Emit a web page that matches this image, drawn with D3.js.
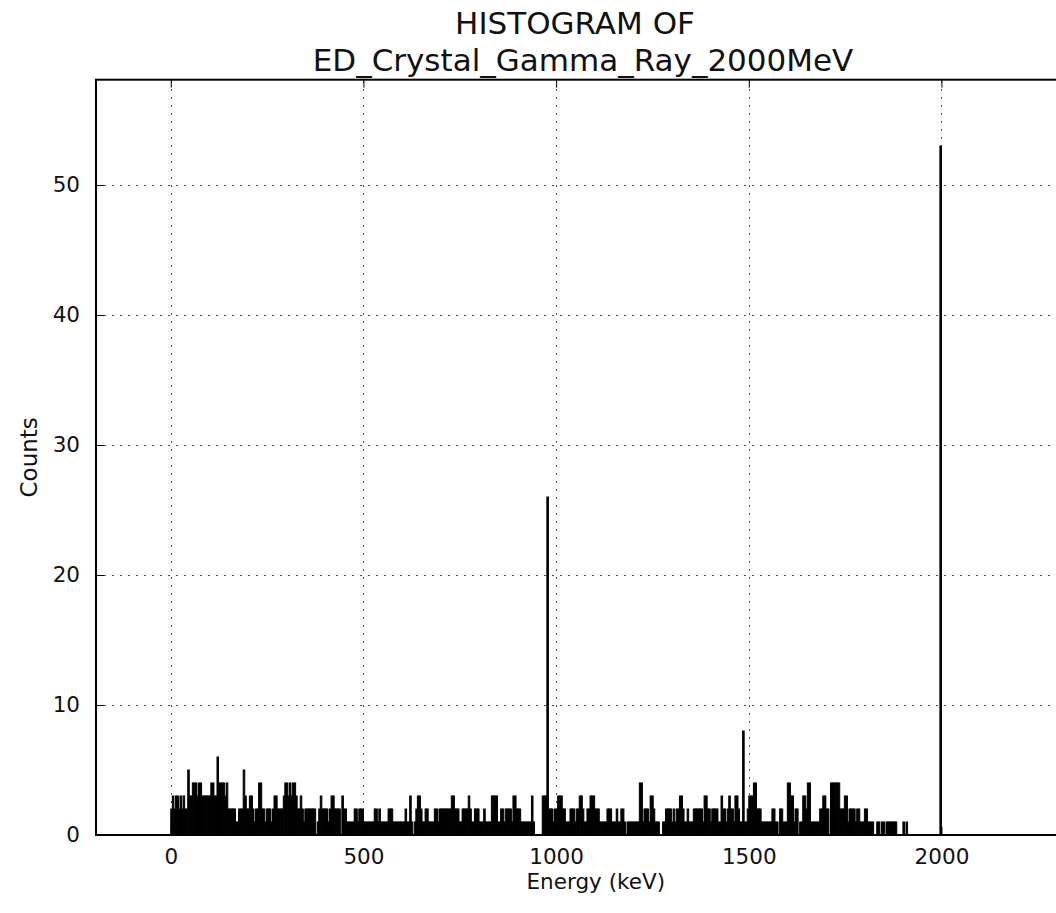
<!DOCTYPE html>
<html>
<head>
<meta charset="utf-8">
<script src="https://cdn.jsdelivr.net/npm/d3@7"></script>
<style>
  html, body { margin: 0; padding: 0; background: #fff; }
  svg { display: block; font-family: "DejaVu Sans", sans-serif; }
</style>
</head>
<body>
<svg id="chart" width="1056" height="913"></svg>
<script>
// ---- text ----
const titleLines = ["HISTOGRAM OF", "ED_Crystal_Gamma_Ray_2000MeV"];
const xLabel = "Energy (keV)";
const yLabel = "Counts";

// ---- histogram bins: 4 keV wide, starting at 0 keV ----
const binStart = 0;
const binWidth = 4;

// counts per bin, 0-400 keV
const counts0000to0400 = [
  2,3,2,3,3,2,3,2,3,2, 2,5,3,3,4,4,4,3,4,4, 3,3,3,3,3,3,4,4,3,3, 6,4,4,4,4,3,4,2,2,2,
  2,2,1,1,2,2,2,5,3,2, 2,3,3,2,1,2,2,4,4,2, 2,1,2,2,2,1,2,3,3,2, 2,2,2,3,4,4,3,4,3,4,
  4,3,2,2,3,2,1,2,2,2, 2,2,2,2,0,1,2,3,2,2
];
// counts per bin, 400-800 keV
const counts0400to0800 = [
  2,2,1,2,3,3,2,2,2,2, 0,3,2,2,1,1,1,1,1,2, 2,1,2,2,2,1,1,1,1,1, 1,1,2,2,1,2,1,1,1,1,
  1,2,2,2,1,1,1,1,1,1, 1,1,2,1,1,3,1,0,1,2, 3,3,2,1,1,2,2,1,1,1, 1,2,2,1,2,2,2,2,2,2,
  2,2,3,3,2,2,2,1,1,2, 2,2,2,3,2,1,1,2,2,2
];
// counts per bin, 800-1200 keV
const counts0800to1200 = [
  1,1,1,2,1,1,1,1,3,3, 3,3,1,1,2,2,1,2,2,2, 2,1,3,3,2,2,2,1,1,1, 1,1,1,1,3,1,0,0,0,0,
  0,3,3,3,26,2,2,2,1,2, 2,3,3,3,2,2,1,1,1,2, 2,2,1,2,2,3,3,2,1,1, 2,2,3,3,3,2,2,2,1,1,
  1,1,1,2,2,2,1,1,1,2, 1,1,2,2,1,0,1,1,1,1
];
// counts per bin, 1200-1600 keV
const counts1200to1600 = [
  1,1,1,1,4,4,1,2,2,2, 1,3,3,2,1,1,1,0,0,1, 1,2,2,2,2,1,2,1,2,2, 3,3,2,1,1,2,1,1,1,2,
  2,2,2,2,2,1,3,3,2,2, 1,2,2,2,2,1,1,3,2,2, 1,2,3,2,2,1,3,3,2,1, 1,8,1,1,2,3,3,3,4,4,
  2,2,2,1,1,1,1,1,1,1, 2,2,1,1,0,2,2,1,1,1
];
// counts per bin, 1600-2000 keV
const counts1600to2000 = [
  4,4,3,3,1,2,2,0,1,1, 3,3,2,4,4,1,1,1,1,1, 1,2,2,3,3,2,2,0,4,4, 4,4,4,4,2,2,2,3,3,1,
  2,2,2,2,1,2,2,1,1,1, 2,2,1,1,1,1,0,0,1,1, 0,1,1,0,1,1,1,1,1,1, 1,0,0,0,0,1,0,1,0,0,
  0,0,0,0,0,0,0,0,0,0, 0,0,0,0,0,0,0,0,0,53
];

// ---- axes ----
const xLimits = [-194, 2400];
const yLimits = [0, 58.1];
const xTicks = [0, 500, 1000, 1500, 2000];
const yTicks = [0, 10, 20, 30, 40, 50];

const counts = [].concat(counts0000to0400, counts0400to0800, counts0800to1200,
                         counts1200to1600, counts1600to2000);
const bins = counts.map((c, i) => ({
  x0: binStart + i * binWidth,
  x1: binStart + (i + 1) * binWidth,
  count: c
}));

const svg = d3.select("#chart");
const plot = { left: 96, top: 79.7, right: 1095.6, bottom: 835 };

const x = d3.scaleLinear().domain(xLimits).range([plot.left, plot.right]);
const y = d3.scaleLinear().domain(yLimits).range([plot.bottom, plot.top]);

// dotted grid
const grid = svg.append("g").attr("stroke", "#000").attr("stroke-opacity", 0.7)
  .attr("stroke-width", 1).attr("stroke-dasharray", "2,6");
grid.selectAll("line.gx").data(xTicks).join("line")
  .attr("class", "gx")
  .attr("x1", d => Math.round(x(d)) + 0.5).attr("x2", d => Math.round(x(d)) + 0.5)
  .attr("y1", plot.bottom).attr("y2", plot.top);
grid.selectAll("line.gy").data(yTicks.filter(d => d > 0)).join("line")
  .attr("class", "gy")
  .attr("y1", d => Math.round(y(d)) + 0.5).attr("y2", d => Math.round(y(d)) + 0.5)
  .attr("x1", plot.left).attr("x2", plot.right);

// histogram bars
svg.append("g")
  .attr("fill", "#000").attr("stroke", "#000").attr("stroke-width", 1)
  .selectAll("rect").data(bins.filter(b => b.count > 0)).join("rect")
  .attr("x", d => x(d.x0))
  .attr("width", d => x(d.x1) - x(d.x0))
  .attr("y", d => y(d.count))
  .attr("height", d => y(0) - y(d.count));

// axes with inward ticks
const axisFont = 21.5;
const gx = svg.append("g").attr("transform", `translate(0,${plot.bottom})`)
  .call(d3.axisBottom(x).tickValues(xTicks).tickSize(-8).tickSizeOuter(0)
        .tickPadding(14).tickFormat(d3.format("d")));
const gy = svg.append("g").attr("transform", `translate(${plot.left},0)`)
  .call(d3.axisLeft(y).tickValues(yTicks).tickSize(-8).tickSizeOuter(0)
        .tickPadding(16).tickFormat(d3.format("d")));
const gt = svg.append("g").attr("transform", `translate(0,${plot.top})`)
  .call(d3.axisTop(x).tickValues(xTicks).tickSize(-8).tickSizeOuter(0).tickFormat(""));
[gx, gy, gt].forEach(g => {
  g.select(".domain").remove();
  g.selectAll(".tick line").attr("stroke", "#000").attr("stroke-width", 1);
  g.selectAll(".tick text").attr("fill", "#111")
    .style("font-family", "DejaVu Sans").style("font-size", axisFont + "px");
});

// spines (right spine lies past the visible edge)
const spines = svg.append("g").attr("stroke", "#000").attr("stroke-width", 2)
  .attr("fill", "none");
spines.append("rect")
  .attr("x", plot.left).attr("y", plot.top)
  .attr("width", plot.right - plot.left).attr("height", plot.bottom - plot.top);

// axis labels
svg.append("text")
  .attr("x", (plot.left + plot.right) / 2).attr("y", 889)
  .attr("text-anchor", "middle").style("font-size", "21.5px").attr("fill", "#111")
  .text(xLabel);
svg.append("text")
  .attr("transform", `translate(37,${(plot.top + plot.bottom) / 2}) rotate(-90)`)
  .attr("text-anchor", "middle").style("font-size", "23px").attr("fill", "#111")
  .text(yLabel);

// two-line title
svg.append("g").selectAll("text").data(titleLines).join("text")
  .attr("x", (d, i) => i === 0 ? 575 : 583).attr("y", (d, i) => 34 + i * 37)
  .attr("text-anchor", "middle").style("font-size", "31px").attr("fill", "#111")
  .text(d => d);
</script>
</body>
</html>
